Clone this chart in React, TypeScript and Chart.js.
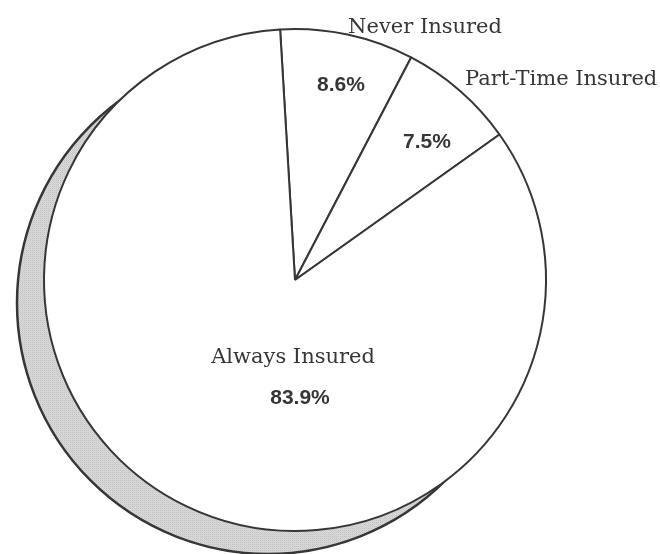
import React, { useEffect, useRef } from "react";
import { Chart, registerables } from "chart.js";

Chart.register(...registerables);

// Insurance status shares (percent)
const categories = ["Never Insured", "Part-Time Insured", "Always Insured"];
const shares = [8.6, 7.5, 83.9];
const shareLabels = ["8.6%", "7.5%", "83.9%"];

const INK = "#363636";

function makeStipple(): CanvasPattern | string {
  const c = document.createElement("canvas");
  c.width = 2;
  c.height = 2;
  const g = c.getContext("2d");
  if (!g) return "#d0d0d0";
  g.fillStyle = "#dadada";
  g.fillRect(0, 0, 2, 2);
  g.fillStyle = "#c2c2c2";
  g.fillRect(0, 0, 1, 1);
  g.fillStyle = "#cfcfcf";
  g.fillRect(1, 1, 1, 1);
  const p = g.createPattern(c, "repeat");
  return p || "#d0d0d0";
}

// Crescent-shaped drop shadow behind the pie, offset down and to the left
const shadowPlugin = {
  id: "pieShadow",
  beforeDatasetsDraw(chart: any) {
    const arc = chart.getDatasetMeta(0).data[0];
    if (!arc) return;
    const { x, y, outerRadius } = arc.getProps(["x", "y", "outerRadius"], true);
    const ctx = chart.ctx;
    ctx.save();
    ctx.beginPath();
    ctx.arc(x - 27, y + 23, outerRadius, 0, Math.PI * 2);
    ctx.fillStyle = makeStipple();
    ctx.fill();
    ctx.lineWidth = 2.5;
    ctx.strokeStyle = INK;
    ctx.stroke();
    ctx.restore();
  },
};

// Category names and percentages, placed relative to the pie centre
const labelPlugin = {
  id: "pieLabels",
  afterDatasetsDraw(chart: any) {
    const arc = chart.getDatasetMeta(0).data[0];
    if (!arc) return;
    const { x, y } = arc.getProps(["x", "y"], true);
    const ctx = chart.ctx;
    ctx.save();
    ctx.fillStyle = INK;
    ctx.textBaseline = "alphabetic";

    const nameFont = '21px "DejaVu Serif", serif';
    const valueFont = 'bold 21px "Liberation Sans", Arial, sans-serif';

    const names: [string, number, number, CanvasTextAlign][] = [
      [categories[0], 130, -247, "center"],
      [categories[1], 170, -195, "left"],
      [categories[2], -2, 83, "center"],
    ];
    const values: [string, number, number][] = [
      [shareLabels[0], 46, -189],
      [shareLabels[1], 132, -132],
      [shareLabels[2], 5, 124],
    ];

    ctx.font = nameFont;
    for (const [t, dx, dy, align] of names) {
      ctx.textAlign = align;
      ctx.fillText(t, x + dx, y + dy);
    }
    ctx.font = valueFont;
    ctx.textAlign = "center";
    for (const [t, dx, dy] of values) {
      ctx.fillText(t, x + dx, y + dy);
    }
    ctx.restore();
  },
};

export default function App() {
  const ref = useRef<HTMLCanvasElement | null>(null);

  useEffect(() => {
    if (!ref.current) return;
    const chart = new Chart(ref.current, {
      type: "pie",
      data: {
        labels: categories,
        datasets: [
          {
            data: shares,
            backgroundColor: "#ffffff",
            borderColor: INK,
            borderWidth: 2,
            hoverOffset: 0,
          },
        ],
      },
      options: {
        responsive: false,
        animation: false,
        events: [],
        rotation: -3.4,
        radius: 251,
        layout: { padding: { left: 0, right: 70, top: 6, bottom: 0 } },
        plugins: {
          legend: { display: false },
          tooltip: { enabled: false },
          title: { display: false },
        },
      },
      plugins: [shadowPlugin, labelPlugin],
    });
    return () => chart.destroy();
  }, []);

  return (
    <div style={{ position: "fixed", left: 0, top: 0, width: 660, height: 554, background: "#fff" }}>
      <canvas ref={ref} width={660} height={554} style={{ width: 660, height: 554 }} />
    </div>
  );
}
